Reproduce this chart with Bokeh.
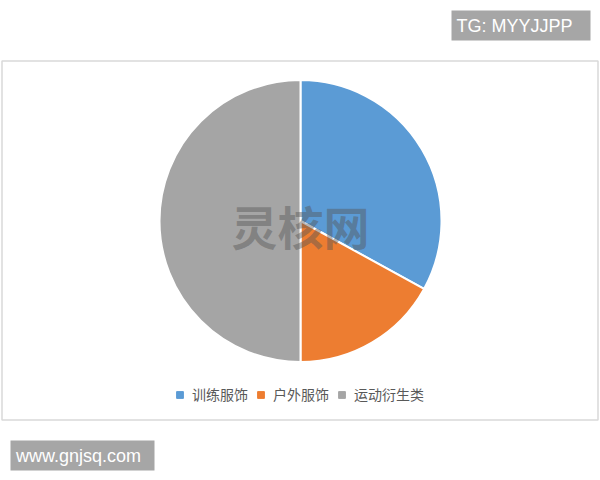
import math
from bokeh.plotting import figure
from bokeh.models import Range1d, Legend, LegendItem, ColumnDataSource
from bokeh.embed import file_html
from bokeh.resources import INLINE
from bokeh.core.properties import value

# ---- data ----
categories = ["训练服饰", "户外服饰", "运动衍生类"]
shares = [33, 17, 50]
colors = ["#5B9BD5", "#ED7D31", "#A5A5A5"]
watermark = "灵核网"
tag_text = "TG: MYYJJPP"
site_text = "www.gnjsq.com"

# ---- figure: data coords == reference pixel coords (y flipped) ----
W, H = 600, 480
p = figure(width=W, height=H, x_range=Range1d(0, 600), y_range=Range1d(0, 480),
           x_axis_type=None, y_axis_type=None, output_backend="svg",
           toolbar_location=None, min_border=0)
p.grid.visible = False
p.outline_line_color = None
p.background_fill_color = "white"
p.border_fill_color = "white"

def Y(ry):
    return 480 - ry

# chart area border
p.quad(left=[1.5], right=[597.5], top=[Y(60.5)], bottom=[Y(419.5)],
       fill_color=None, line_color="#D9D9D9", line_width=1.5)

# pie
total = float(sum(shares))
starts, ends = [], []
cum = 0.0
for s in shares:
    starts.append(math.pi / 2 - cum / total * 2 * math.pi)
    cum += s
    ends.append(math.pi / 2 - cum / total * 2 * math.pi)
src = ColumnDataSource(dict(cat=categories, share=shares, color=colors,
                            start=starts, end=ends))
p.wedge(x=300, y=Y(220.5), radius=141, radius_units="data",
        start_angle="start", end_angle="end", direction="clock",
        fill_color="color", line_color="white", line_width=2, source=src)

# watermark
p.text(x=[300], y=[Y(224)], text=[watermark], text_align="center",
       text_baseline="middle", text_font=value("Noto Sans CJK SC"),
       text_font_style="bold", text_font_size="46px",
       text_color="#555555", text_alpha=0.45)

# legend
items = []
for cat, col in zip(categories, colors):
    r = p.scatter(x=[float("nan")], y=[float("nan")], marker="square",
                  size=7, fill_color=col, line_color=col)
    items.append(LegendItem(label=cat, renderers=[r]))
legend = Legend(items=items, orientation="horizontal", location=(171, 76),
                glyph_width=17, glyph_height=17, label_height=17,
                label_standoff=4, spacing=4, padding=0, margin=0,
                label_text_font="Noto Sans CJK SC", label_text_font_size="14px",
                label_text_color="#595959", border_line_color=None,
                background_fill_alpha=0)
p.add_layout(legend)

# tag boxes
p.quad(left=[451], right=[590], top=[Y(10)], bottom=[Y(40)],
       fill_color="#A6A6A6", line_color=None)
p.text(x=[456], y=[Y(25.5)], text=[tag_text], text_align="left",
       text_baseline="middle", text_font=value("Liberation Sans"),
       text_font_size="18px", text_color="white")

p.quad(left=[10], right=[154], top=[Y(440)], bottom=[Y(470)],
       fill_color="#A6A6A6", line_color=None)
p.text(x=[15.5], y=[Y(455.5)], text=[site_text], text_align="left",
       text_baseline="middle", text_font=value("Liberation Sans"),
       text_font_size="18px", text_color="white")

open("out.html", "w").write(file_html(p, INLINE))
